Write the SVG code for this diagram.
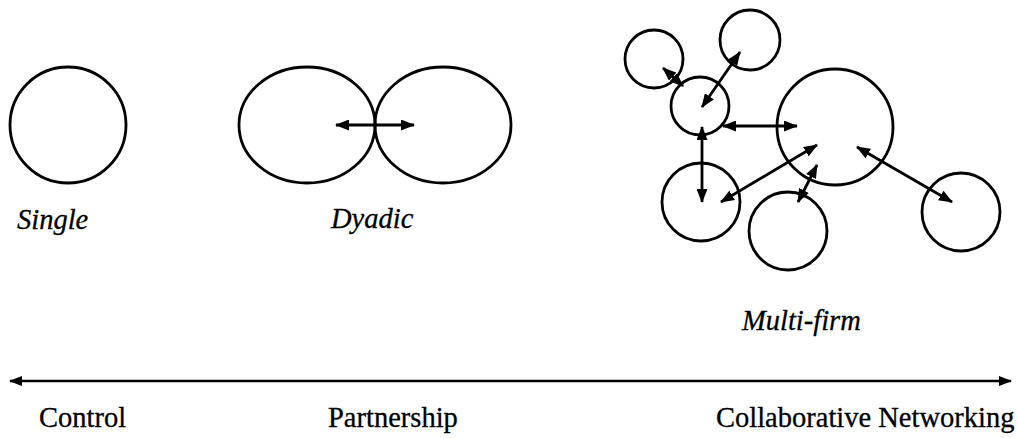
<svg xmlns="http://www.w3.org/2000/svg" width="1018" height="438" viewBox="0 0 1018 438">
  <style>
    .firm { fill: none; stroke: #000; stroke-width: 2.8; }
    .link { fill: none; stroke: #000; stroke-width: 2.8; marker-start: url(#head); marker-end: url(#head); }
    .axis { fill: none; stroke: #000; stroke-width: 2.5; marker-start: url(#axisHead); marker-end: url(#axisHead); }
    .label { font-family: "Liberation Serif", "Times New Roman", serif; font-size: 28.5px; fill: #000; stroke: #000; stroke-width: 0.3; }
    .kind { font-style: italic; }
  </style>
  <defs>
    <marker id="head" viewBox="0 0 14 11" refX="13" refY="5.5" markerWidth="14" markerHeight="11" markerUnits="userSpaceOnUse" orient="auto-start-reverse">
      <path d="M0,0 L14,5.5 L0,11 z" fill="#000"/>
    </marker>
    <marker id="axisHead" viewBox="0 0 13 10" refX="12" refY="5" markerWidth="13" markerHeight="10" markerUnits="userSpaceOnUse" orient="auto-start-reverse">
      <path d="M0,0 L13,5 L0,10 z" fill="#000"/>
    </marker>
  </defs>

  <!-- Single firm -->
  <g id="single">
    <circle class="firm" cx="68" cy="125" r="58"/>
    <text class="label kind" x="17" y="229">Single</text>
  </g>

  <!-- Dyadic partnership -->
  <g id="dyadic">
    <ellipse class="firm" cx="307" cy="125" rx="68" ry="58"/>
    <ellipse class="firm" cx="443" cy="125" rx="68" ry="58"/>
    <text class="label kind" x="331" y="228">Dyadic</text>
  </g>

  <!-- Multi-firm network -->
  <g id="multi-firm">
    <circle id="firm-a" class="firm" cx="654" cy="59" r="29"/>
    <circle id="firm-b" class="firm" cx="750" cy="40" r="30"/>
    <circle id="firm-c" class="firm" cx="700" cy="106" r="29"/>
    <circle id="firm-hub" class="firm" cx="835" cy="127" r="58"/>
    <circle id="firm-d" class="firm" cx="701" cy="202" r="39"/>
    <circle id="firm-e" class="firm" cx="788" cy="231" r="39"/>
    <circle id="firm-f" class="firm" cx="961" cy="212" r="39"/>
    <text class="label kind" x="742" y="330">Multi-firm</text>
  </g>

  <!-- Connectors -->
  <g id="connectors">
    <line class="link" x1="336" y1="125" x2="414" y2="125"/>
    <line class="link" x1="663" y1="68" x2="683" y2="86"/>
    <line class="link" x1="740" y1="52" x2="702" y2="107"/>
    <line class="link" x1="723" y1="126" x2="797" y2="126"/>
    <line class="link" x1="702" y1="127" x2="702" y2="202"/>
    <line class="link" x1="721" y1="202" x2="817" y2="145"/>
    <line class="link" x1="798" y1="202" x2="817" y2="165"/>
    <line class="link" x1="857" y1="147" x2="952" y2="202"/>
    <line class="axis" x1="10" y1="381" x2="1011" y2="381"/>
  </g>

  <!-- Continuum labels -->
  <g id="scale-labels">
    <text class="label" x="39" y="427">Control</text>
    <text class="label" x="328" y="427">Partnership</text>
    <text class="label" x="716" y="427">Collaborative Networking</text>
  </g>
</svg>
